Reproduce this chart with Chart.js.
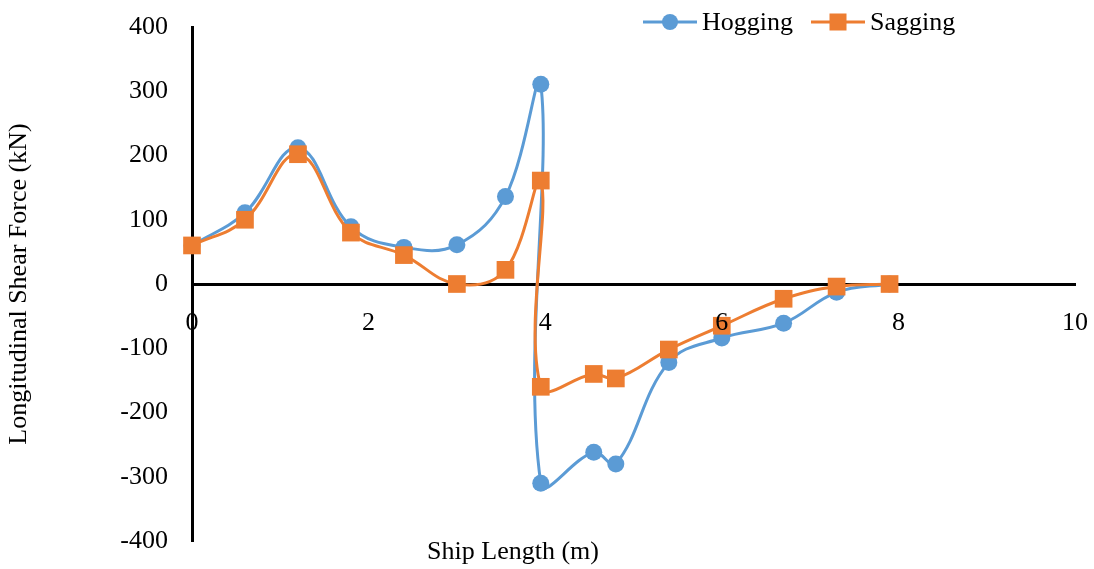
<!DOCTYPE html>
<html>
<head>
<meta charset="utf-8">
<script src="https://cdn.jsdelivr.net/npm/chart.js@4.4.0/dist/chart.umd.min.js"></script>
<style>
  html, body { margin: 0; padding: 0; background: #fff; }
</style>
</head>
<body>
<canvas id="shearChart" width="1094" height="569"></canvas>
<script>
// values
const shipLength = [0, 0.6, 1.2, 1.8, 2.4, 3.0, 3.55, 3.95, 3.95, 4.55, 4.8, 5.4, 6.0, 6.7, 7.3, 7.9];
const hogging = [60, 111, 212, 89, 57, 61, 136, 311, -310, -262, -280, -122, -84, -61, -13, 0];
const sagging = [60, 100, 202, 80, 45, 0, 22, 161, -160, -140, -147, -102, -65, -23, -4, 0];
const xTicks = [0, 2, 4, 6, 8, 10];
const yTicks = [-400, -300, -200, -100, 0, 100, 200, 300, 400];
const seriesNames = ['Hogging', 'Sagging'];

const BLUE = '#5B9BD5';
const ORANGE = '#ED7D31';
const FONT = "'Liberation Serif', 'Times New Roman', serif";
const FSIZE = 26;

const toPoints = (ys) => shipLength.map((x, i) => ({ x: x, y: ys[i] }));

// Excel style legend (line with marker) at the top right
const legendPlugin = {
  id: 'excelLegend',
  afterDraw(chart) {
    const ctx = chart.ctx;
    const y = 22;
    let x = 643;
    ctx.save();
    ctx.font = FSIZE + 'px ' + FONT;
    ctx.textBaseline = 'middle';
    chart.data.datasets.forEach((ds) => {
      ctx.strokeStyle = ds.borderColor;
      ctx.lineWidth = 3;
      ctx.beginPath();
      ctx.moveTo(x, y);
      ctx.lineTo(x + 54, y);
      ctx.stroke();
      ctx.fillStyle = ds.backgroundColor;
      if (ds.pointStyle === 'circle') {
        ctx.beginPath();
        ctx.arc(x + 27, y, 8, 0, Math.PI * 2);
        ctx.fill();
      } else {
        ctx.fillRect(x + 27 - 8.5, y - 8.5, 17, 17);
      }
      ctx.fillStyle = '#000';
      ctx.fillText(ds.label, x + 59, y + 1);
      x += 59 + ctx.measureText(ds.label).width + 18;
    });
    ctx.restore();
  }
};

// x title sits under the plot, left of centre like the original
const xTitlePlugin = {
  id: 'xTitle',
  afterDraw(chart) {
    const ctx = chart.ctx;
    ctx.save();
    ctx.font = FSIZE + 'px ' + FONT;
    ctx.fillStyle = '#000';
    ctx.textAlign = 'center';
    ctx.textBaseline = 'middle';
    ctx.fillText('Ship Length (m)', 513, 552);
    ctx.restore();
  }
};

new Chart(document.getElementById('shearChart'), {
  type: 'scatter',
  data: {
    datasets: [
      {
        label: seriesNames[0],
        data: toPoints(hogging),
        showLine: true,
        borderColor: BLUE,
        backgroundColor: BLUE,
        borderWidth: 3,
        pointStyle: 'circle',
        pointRadius: 8.5,
        pointBorderWidth: 0,
        tension: 0.4,
        clip: false,
        order: 2,
      },
      {
        label: seriesNames[1],
        data: toPoints(sagging),
        showLine: true,
        borderColor: ORANGE,
        backgroundColor: ORANGE,
        borderWidth: 3,
        pointStyle: 'rect',
        pointRadius: 12.5,
        pointBorderWidth: 0,
        tension: 0.4,
        clip: false,
        order: 1,
      },
    ],
  },
  options: {
    responsive: false,
    animation: false,
    events: [],
    layout: { autoPadding: false, padding: { left: 0, right: 19, top: 27, bottom: 28 } },
    plugins: {
      legend: { display: false },
      tooltip: { enabled: false },
    },
    scales: {
      x: {
        type: 'linear',
        position: { y: 0 },
        min: 0,
        max: 10,
        afterBuildTicks: (scale) => { scale.ticks = xTicks.map((v) => ({ value: v })); },
        afterFit: (scale) => { scale.paddingLeft = 0; scale.paddingRight = 0; },
        // labels go over the series (z: 1), like in the original
        ticks: { z: 1, padding: 24, color: '#000', font: { family: FONT, size: FSIZE }, maxRotation: 0, autoSkip: false },
        grid: { display: false, drawTicks: false },
        border: { display: true, color: '#000', width: 3 },
      },
      y: {
        type: 'linear',
        position: 'left',
        min: -400,
        max: 400,
        afterBuildTicks: (scale) => { scale.ticks = yTicks.map((v) => ({ value: v })); },
        afterFit: (scale) => { scale.width = 192; scale.paddingTop = 0; scale.paddingBottom = 0; },
        ticks: { padding: 24, color: '#000', font: { family: FONT, size: FSIZE } },
        grid: { display: false, drawTicks: false },
        border: { display: true, color: '#000', width: 3 },
        title: {
          display: true,
          text: 'Longitudinal Shear Force (kN)',
          color: '#000',
          font: { family: FONT, size: FSIZE },
          padding: { top: 4, bottom: 0 },
        },
      },
    },
  },
  plugins: [legendPlugin, xTitlePlugin],
});
</script>
</body>
</html>
